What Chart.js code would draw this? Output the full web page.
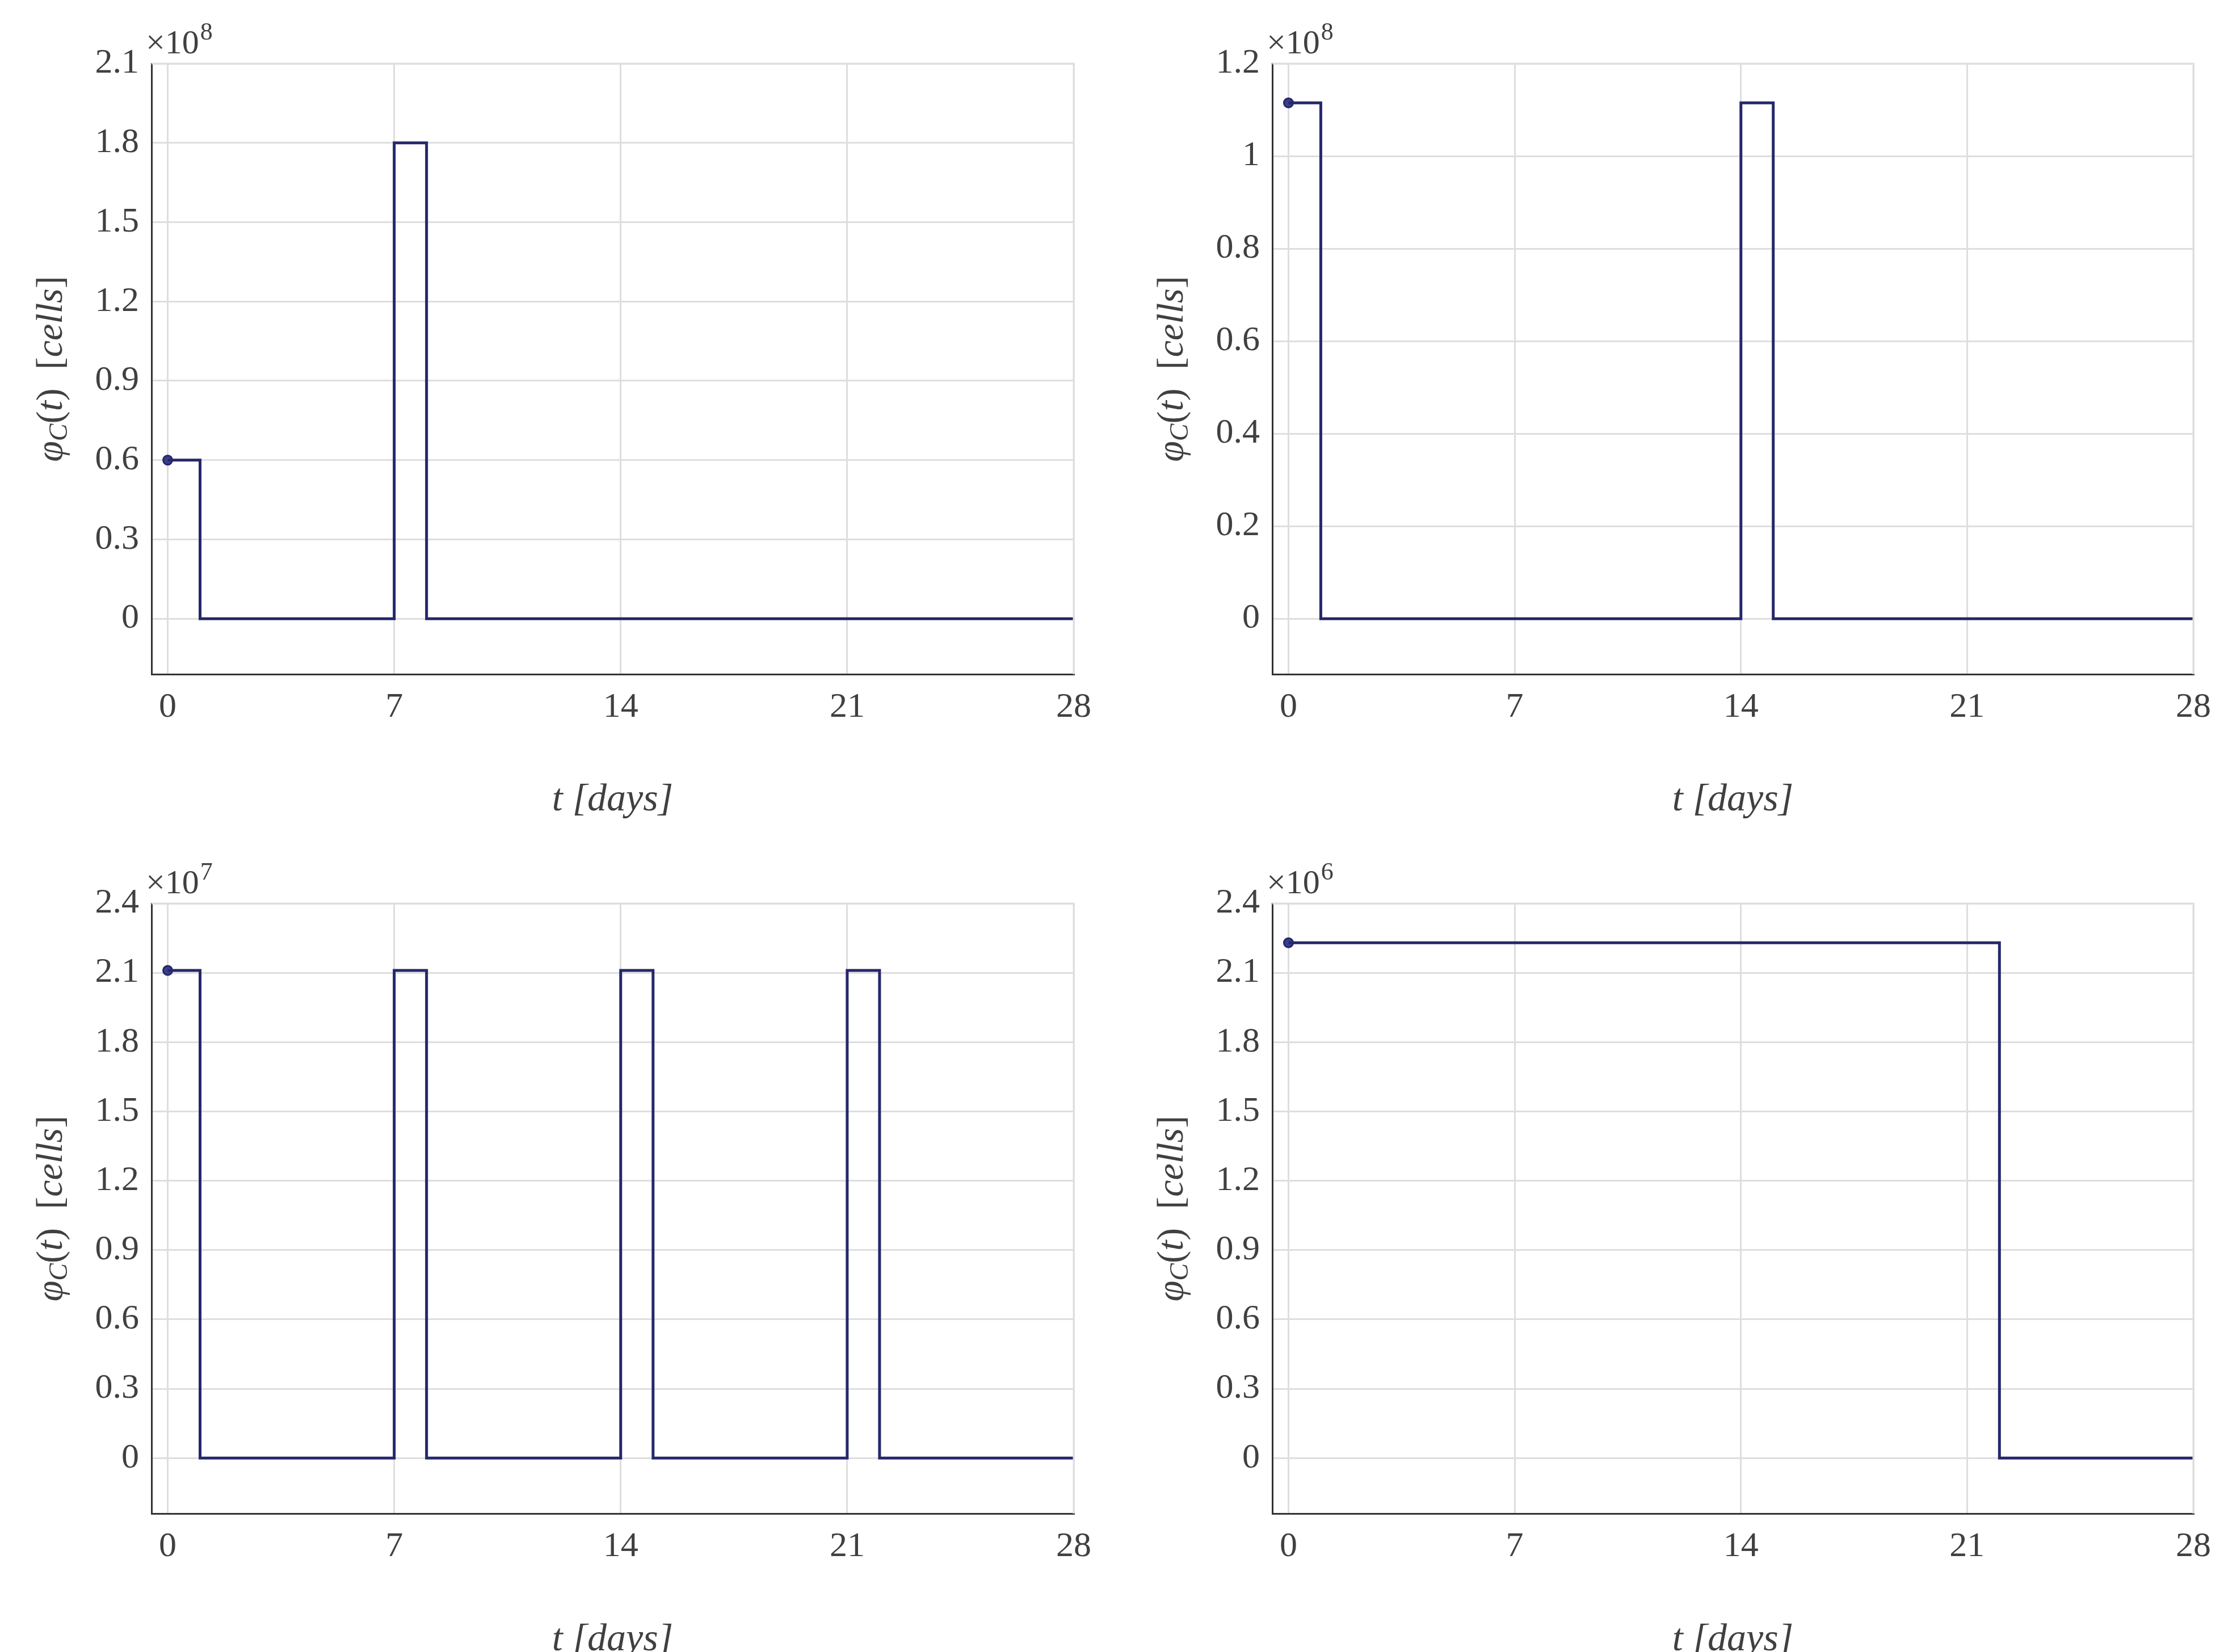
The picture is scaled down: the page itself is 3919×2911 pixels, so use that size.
<!DOCTYPE html>
<html><head><meta charset="utf-8">
<script src="https://cdn.jsdelivr.net/npm/chart.js@4"></script>
<style>body{margin:0;background:#fff;width:3919px;height:2911px;position:relative;overflow:hidden}canvas{position:absolute}</style>
</head><body>
<canvas id="c0" width="1960" height="1455"></canvas><canvas id="c1" width="1960" height="1455"></canvas><canvas id="c2" width="1960" height="1455"></canvas><canvas id="c3" width="1960" height="1455"></canvas>
<script>
const xTicks = [0, 7, 14, 21, 28];
const t1 = [0, 1, 1, 7, 7, 8, 8, 28];
const v1 = [0.6, 0.6, 0, 0, 1.8, 1.8, 0, 0];
const t2 = [0, 1, 1, 14, 14, 15, 15, 28];
const v2 = [1.115, 1.115, 0, 0, 1.115, 1.115, 0, 0];
const t3 = [0, 1, 1, 7, 7, 8, 8, 14, 14, 15, 15, 21, 21, 22, 22, 28];
const v3 = [2.11, 2.11, 0, 0, 2.11, 2.11, 0, 0, 2.11, 2.11, 0, 0, 2.11, 2.11, 0, 0];
const t4 = [0, 22, 22, 28];
const v4 = [2.23, 2.23, 0, 0];
const exps = ['8', '8', '7', '6'];
const yRanges = [[-0.21, 2.1, 0.3], [-0.12, 1.2, 0.2], [-0.24, 2.4, 0.3], [-0.24, 2.4, 0.3]];
const series = [[t1, v1], [t2, v2], [t3, v3], [t4, v4]];

const FONT = 'Liberation Serif';
const TXT = '#404040';
const LINE = '#25286a';
const W = 1960, H = 1455;
const pos = [[0, 0], [1975, 0], [0, 1480], [1975, 1480]];
const areas = [[267, 112, 1892, 1188], [2242, 112, 3865, 1188], [267, 1592, 1892, 2667], [2242, 1592, 3865, 2667]];

const exponentPlugin = {
  id: 'exp',
  afterDraw(chart) {
    const c = chart.ctx, a = chart.chartArea, e = chart.options.plugins.exp.e;
    c.save();
    c.fillStyle = TXT;
    c.font = '60px "' + FONT + '"';
    c.textBaseline = 'alphabetic';
    c.fillText('\u00d710', a.left - 10, a.top - 18);
    const w = c.measureText('\u00d710').width;
    c.font = '44px "' + FONT + '"';
    c.fillText(e, a.left - 10 + w + 2, a.top - 42);
    c.restore();
  }
};
const yTitlePlugin = {
  id: 'ytitle',
  afterDraw(chart) {
    const c = chart.ctx, a = chart.chartArea;
    c.save();
    c.translate(a.left - 195, (a.top + a.bottom) / 2);
    c.rotate(-Math.PI / 2);
    c.fillStyle = TXT;
    const parts = [['\u03c6', 'italic 66px', 0], ['C', 'italic 46px', 14], ['(', '66px', 0], ['t', 'italic 66px', 0], [')  [', '66px', 0], ['cells', 'italic 66px', 0], [']', '66px', 0]];
    let total = 0;
    parts.forEach(p => { c.font = p[1] + ' "' + FONT + '"'; total += c.measureText(p[0]).width; });
    let x = -total / 2;
    c.textBaseline = 'middle';
    parts.forEach(p => { c.font = p[1] + ' "' + FONT + '"'; c.fillText(p[0], x, 20 + p[2]); x += c.measureText(p[0]).width; });
    c.restore();
  }
};
const framePlugin = {
  id: 'frame',
  afterDraw(chart) {
    const c = chart.ctx, a = chart.chartArea;
    c.save(); c.strokeStyle = '#dedede'; c.lineWidth = 3;
    c.beginPath(); c.moveTo(a.left, a.top); c.lineTo(a.right, a.top); c.lineTo(a.right, a.bottom); c.stroke(); c.restore();
  }
};

for (let i = 0; i < 4; i++) {
  const cv = document.getElementById('c' + i);
  cv.style.left = pos[i][0] + 'px'; cv.style.top = pos[i][1] + 'px';
  const ar = areas[i];
  const left = ar[0] - pos[i][0], top = ar[1] - pos[i][1];
  const right = W - (ar[2] - pos[i][0]), bottom = H - (ar[3] - pos[i][1]);
  const [ts, vs] = series[i];
  const [ymin, ymax, ystep] = yRanges[i];
  new Chart(cv, {
    type: 'scatter',
    data: { datasets: [
      { data: ts.map((t, k) => ({ x: t, y: vs[k] })), showLine: true, borderColor: LINE, borderWidth: 5, pointRadius: 0, fill: false },
      { data: [{ x: ts[0], y: vs[0] }], pointRadius: 8, pointBackgroundColor: '#3a3f8a', pointBorderColor: LINE, pointBorderWidth: 3 }
    ] },
    options: {
      responsive: false, animation: false, devicePixelRatio: 1,
      layout: { padding: { left: 0, top: top, right: right, bottom: 0 } },
      plugins: { legend: { display: false }, tooltip: { enabled: false }, exp: { e: exps[i] } },
      scales: {
        x: {
          type: 'linear', min: -0.5, max: 28,
          afterBuildTicks: s => { s.ticks = xTicks.map(v => ({ value: v })); },
          afterFit: s => { s.height = bottom; },
          grid: { color: '#dedede', lineWidth: 3, drawTicks: false },
          border: { color: '#333', width: 3 },
          ticks: { color: TXT, font: { family: FONT, size: 62 }, padding: 22 },
          title: { display: true, text: 't [days]', color: TXT, font: { family: FONT, size: 68, style: 'italic' }, padding: { top: 0 } }
        },
        y: {
          min: ymin, max: ymax,
          afterBuildTicks: s => { const a = []; for (let v = 0; v <= ymax + 1e-9; v += ystep) a.push({ value: Math.round(v * 100) / 100 }); s.ticks = a; },
          afterFit: s => { s.width = left; },
          grid: { color: '#dedede', lineWidth: 3, drawTicks: false },
          border: { color: '#333', width: 3 },
          ticks: { color: TXT, font: { family: FONT, size: 62 }, padding: 22, callback: v => String(Math.round(v * 100) / 100) }
        }
      }
    },
    plugins: [exponentPlugin, yTitlePlugin, framePlugin]
  });
}
</script>
</body></html>
